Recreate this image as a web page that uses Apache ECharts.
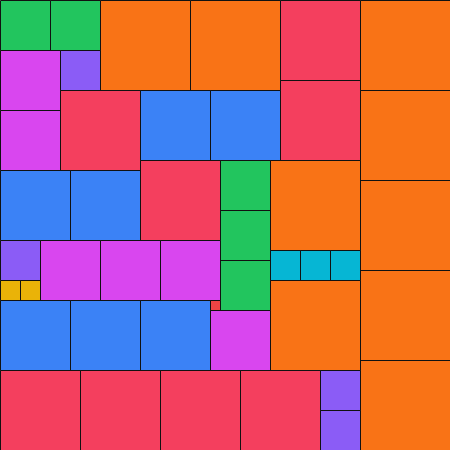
<!DOCTYPE html>
<html>
<head>
<meta charset="utf-8">
<script src="https://cdn.jsdelivr.net/npm/echarts@6/dist/echarts.min.js"></script>
<style>html,body{margin:0;padding:0;background:#fff}#main{width:450px;height:450px}</style>
</head>
<body>
<div id="main"></div>
<script>
// Square packing: each square has left x, top y, side length, group
const groups = ['green', 'orange', 'rose', 'magenta', 'violet', 'blue', 'cyan', 'yellow', 'red'];
const squareX    = [0, 50, 100, 190, 280, 280, 360, 360, 360, 360, 360, 0, 0, 60, 60, 140, 210, 0, 70, 140, 220, 220, 220, 270, 270, 300, 330, 270, 0, 0, 20, 40, 100, 160, 210, 0, 70, 140, 210, 0, 80, 160, 240, 320, 320];
const squareY    = [0, 0, 0, 0, 0, 80, 0, 90, 180, 270, 360, 50, 110, 50, 90, 90, 90, 170, 170, 160, 160, 210, 260, 160, 250, 250, 250, 280, 240, 280, 280, 240, 240, 240, 300, 300, 300, 300, 310, 370, 370, 370, 370, 370, 410];
const squareSize = [50, 50, 90, 90, 80, 80, 90, 90, 90, 90, 90, 60, 60, 40, 80, 70, 70, 70, 70, 80, 50, 50, 50, 90, 30, 30, 30, 90, 40, 20, 20, 60, 60, 60, 10, 70, 70, 70, 60, 80, 80, 80, 80, 40, 40];
const squareGroup = ['green', 'green', 'orange', 'orange', 'rose', 'rose', 'orange', 'orange', 'orange', 'orange', 'orange', 'magenta', 'magenta', 'violet', 'rose', 'blue', 'blue', 'blue', 'blue', 'rose', 'green', 'green', 'green', 'orange', 'cyan', 'cyan', 'cyan', 'orange', 'violet', 'yellow', 'yellow', 'magenta', 'magenta', 'magenta', 'red', 'blue', 'blue', 'blue', 'magenta', 'rose', 'rose', 'rose', 'rose', 'violet', 'violet'];

const palette = {
  green: '#22c55e', orange: '#f97316', rose: '#f43f5e', magenta: '#d946ef',
  violet: '#8b5cf6', blue: '#3b82f6', cyan: '#06b6d4', yellow: '#eab308', red: '#ef4444'
};

const data = squareX.map((x, i) => [x, squareY[i], squareSize[i], squareGroup[i]]);

const chart = echarts.init(document.getElementById('main'), null, {renderer: 'canvas'});
chart.setOption({
  animation: false,
  backgroundColor: '#ffffff',
  grid: {left: 0, right: 0, top: 0, bottom: 0},
  xAxis: {type: 'value', min: 0, max: 450, show: false},
  yAxis: {type: 'value', min: 0, max: 450, inverse: true, show: false},
  series: [{
    type: 'custom',
    data: data,
    encode: {x: 0, y: 1},
    renderItem: function (params, api) {
      const x = api.value(0), y = api.value(1), s = api.value(2);
      const p0 = api.coord([x, y]);
      const p1 = api.coord([x + s, y + s]);
      const g = data[params.dataIndex][3];
      return {
        type: 'rect',
        shape: {x: Math.round(p0[0]) + 0.5, y: Math.round(p0[1]) + 0.5,
                width: Math.round(p1[0]) - Math.round(p0[0]),
                height: Math.round(p1[1]) - Math.round(p0[1])},
        style: {fill: palette[g], stroke: '#111111', lineWidth: 1}
      };
    }
  }]
});
</script>
</body>
</html>
